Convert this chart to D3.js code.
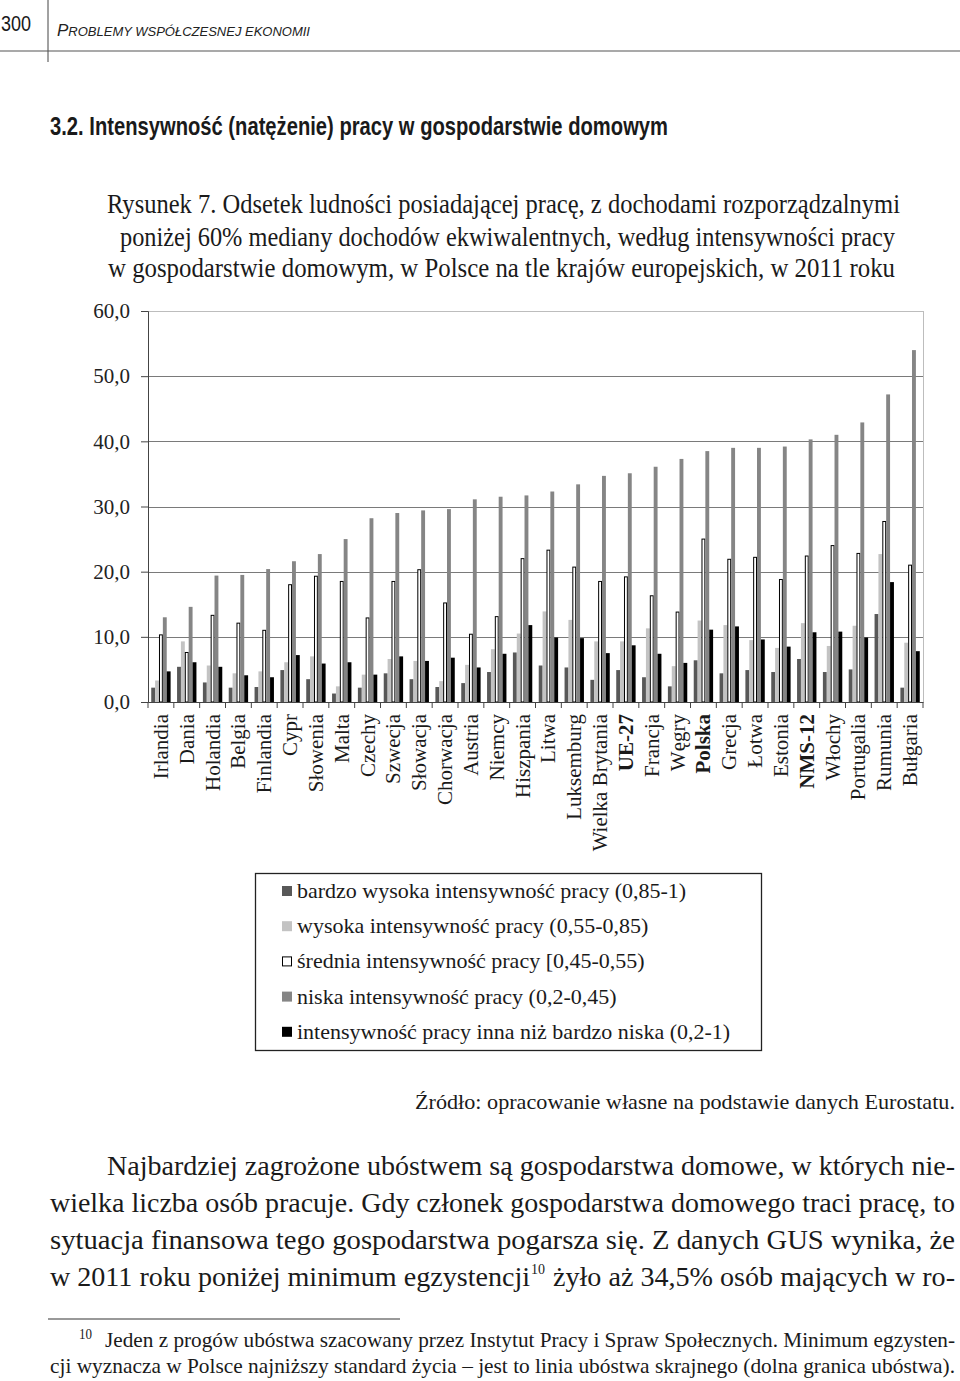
<!DOCTYPE html>
<html>
<head>
<meta charset="utf-8">
<script src="https://cdn.jsdelivr.net/npm/d3@7"></script>
<style>
  body { margin: 0; background: #fff; }
  svg { display: block; }
</style>
</head>
<body>
<script>
// kraje (kolejność jak na rysunku)
const countries = ["Irlandia", "Dania", "Holandia", "Belgia", "Finlandia", "Cypr", "Słowenia", "Malta",
  "Czechy", "Szwecja", "Słowacja", "Chorwacja", "Austria", "Niemcy", "Hiszpania", "Litwa", "Luksemburg",
  "Wielka Brytania", "UE-27", "Francja", "Węgry", "Polska", "Grecja", "Łotwa", "Estonia", "NMS-12",
  "Włochy", "Portugalia", "Rumunia", "Bułgaria"];
const boldCountries = ["UE-27", "Polska", "NMS-12"];

// wartości (%)
const veryHigh = [2.2, 5.4, 3.0, 2.2, 2.3, 4.9, 3.5, 1.3, 2.2, 4.4, 3.5, 2.3, 2.9, 4.6, 7.6, 5.6, 5.3,
  3.4, 4.9, 3.8, 2.4, 6.4, 4.4, 4.9, 4.6, 6.6, 4.6, 5.0, 13.5, 2.2];
const high = [3.3, 9.3, 5.6, 4.4, 4.7, 6.1, 7.0, 2.4, 4.2, 6.6, 6.3, 3.2, 5.7, 8.1, 10.5, 13.9, 12.6,
  9.3, 9.3, 11.3, 5.5, 12.5, 11.8, 9.5, 8.3, 12.1, 8.6, 11.7, 22.7, 9.1];
const medium = [10.3, 7.6, 13.3, 12.1, 11.0, 18.0, 19.3, 18.5, 12.9, 18.5, 20.3, 15.2, 10.4, 13.1, 22.0,
  23.3, 20.7, 18.5, 19.2, 16.3, 13.8, 25.0, 21.9, 22.2, 18.8, 22.4, 24.0, 22.8, 27.7, 21.0];
const low = [13.0, 14.6, 19.4, 19.5, 20.4, 21.6, 22.7, 25.0, 28.2, 29.0, 29.4, 29.6, 31.1, 31.5, 31.7,
  32.3, 33.4, 34.7, 35.1, 36.1, 37.3, 38.5, 39.0, 39.0, 39.2, 40.3, 41.0, 42.9, 47.2, 54.0];
const otherThanVeryLow = [4.7, 6.1, 5.4, 4.1, 3.8, 7.2, 5.9, 6.1, 4.2, 7.0, 6.3, 6.8, 5.3, 7.4, 11.8,
  9.9, 9.8, 7.5, 8.7, 7.4, 6.0, 11.1, 11.6, 9.6, 8.5, 10.7, 10.8, 9.9, 18.4, 7.8];

const seriesNames = [
  "bardzo wysoka intensywność pracy (0,85-1)",
  "wysoka intensywność pracy (0,55-0,85)",
  "średnia intensywność pracy [0,45-0,55)",
  "niska intensywność pracy (0,2-0,45)",
  "intensywność pracy inna niż bardzo niska (0,2-1)"
];
const yTicks = [0, 10, 20, 30, 40, 50, 60];

const series = [veryHigh, high, medium, low, otherThanVeryLow];
const fills = ["#585858", "#c3c3c3", "#ffffff", "#858585", "#000000"];
const serif = "'Liberation Serif', 'Times New Roman', serif";
const narrow = "'Liberation Sans Narrow', 'Liberation Sans', Arial, sans-serif";

const W = 960, H = 1381;
const svg = d3.select("body").append("svg")
  .attr("width", W).attr("height", H);

// tekst dopasowany do szerokości z oryginału (sy = rozciągnięcie w pionie)
function fitText(str, x, y, width, size, family, opts = {}) {
  const g = svg.append("g")
    .attr("transform", `translate(${x},${y}) scale(1,${opts.sy || 1})`);
  const t = g.append("text")
    .attr("font-family", family)
    .attr("font-size", size)
    .attr("fill", "#1a1a1a")
    .text(str);
  if (width) t.attr("textLength", width).attr("lengthAdjust", "spacingAndGlyphs");
  if (opts.weight) t.attr("font-weight", opts.weight);
  if (opts.anchor) t.attr("text-anchor", opts.anchor);
  return t;
}

// --- nagłówek strony ---
fitText("300", 1, 31, 30, 22, narrow);
svg.append("line").attr("x1", 48).attr("x2", 48).attr("y1", 0).attr("y2", 62)
  .attr("stroke", "#444").attr("stroke-width", 1);
svg.append("line").attr("x1", 0).attr("x2", W).attr("y1", 51).attr("y2", 51)
  .attr("stroke", "#555").attr("stroke-width", 1.2);
const hdr = svg.append("text").attr("x", 57).attr("y", 36)
  .attr("font-family", narrow).attr("font-style", "italic").attr("fill", "#222")
  .attr("textLength", 253).attr("lengthAdjust", "spacingAndGlyphs");
hdr.append("tspan").attr("font-size", 17).text("P");
hdr.append("tspan").attr("font-size", 13).text("ROBLEMY WSPÓŁCZESNEJ EKONOMII");

fitText("3.2. Intensywność (natężenie) pracy w gospodarstwie domowym", 50, 135, 618, 24, narrow, { weight: "bold", sy: 1.05 });

// --- tytuł rysunku ---
fitText("Rysunek 7. Odsetek ludności posiadającej pracę, z dochodami rozporządzalnymi", 107, 213, 793, 23, serif, { sy: 1.18 });
fitText("poniżej 60% mediany dochodów ekwiwalentnych, według intensywności pracy", 120, 246, 775, 23, serif, { sy: 1.18 });
fitText("w gospodarstwie domowym, w Polsce na tle krajów europejskich, w 2011 roku", 108, 277, 787, 23, serif, { sy: 1.18 });

// --- wykres ---
const plotLeft = 148, plotRight = 923, plotTop = 311, plotBottom = 702;
const x0 = d3.scaleBand().domain(countries).range([plotLeft, plotRight])
  .paddingInner(0.25).paddingOuter(0.125);
const x1 = d3.scaleBand().domain(d3.range(5)).range([0, x0.bandwidth()]);
const y = d3.scaleLinear().domain([0, 60]).range([plotBottom, plotTop]);

const chart = svg.append("g");

// linie siatki
chart.append("g").selectAll("line").data(yTicks.filter(d => d > 0)).join("line")
  .attr("x1", plotLeft).attr("x2", plotRight)
  .attr("y1", d => Math.round(y(d)) + 0.5).attr("y2", d => Math.round(y(d)) + 0.5)
  .attr("stroke", d => d === 60 ? "#bdbdbd" : "#7a7a7a").attr("stroke-width", 1.2);
chart.append("line").attr("x1", plotRight + 0.5).attr("x2", plotRight + 0.5)
  .attr("y1", plotTop).attr("y2", plotBottom)
  .attr("stroke", "#bdbdbd");

// słupki
const groups = chart.append("g").selectAll("g").data(countries).join("g")
  .attr("transform", d => `translate(${x0(d)},0)`);
groups.selectAll("rect")
  .data((c, i) => series.map((s, k) => ({ k, v: s[i] })))
  .join("rect")
  .attr("x", d => x1(d.k) + (d.k === 2 ? 0.5 : 0))
  .attr("width", d => x1.bandwidth() - (d.k === 2 ? 1 : 0))
  .attr("y", d => y(d.v))
  .attr("height", d => y(0) - y(d.v))
  .attr("fill", d => fills[d.k])
  .attr("stroke", d => d.k === 2 ? "#000" : "none")
  .attr("stroke-width", 1);

// oś Y
const yAxis = chart.append("g").attr("transform", `translate(${plotLeft},0)`)
  .call(d3.axisLeft(y).tickValues(yTicks).tickSize(7).tickPadding(11)
    .tickFormat(d => d3.format(".1f")(d).replace(".", ",")));
yAxis.select(".domain").attr("stroke", "#444");
yAxis.selectAll(".tick line").attr("stroke", "#444");
yAxis.selectAll("text").attr("font-family", serif).attr("font-size", 21).attr("fill", "#222");

// oś X
const xAxis = chart.append("g").attr("transform", `translate(0,${plotBottom})`)
  .call(d3.axisBottom(x0).tickSize(0).tickSizeOuter(0));
xAxis.select(".domain").attr("stroke", "#444");
xAxis.selectAll(".tick text").remove();
const step = x0.step();
chart.append("g").selectAll("line").data(d3.range(countries.length + 1)).join("line")
  .attr("x1", i => plotLeft + i * step).attr("x2", i => plotLeft + i * step)
  .attr("y1", plotBottom).attr("y2", plotBottom + 6)
  .attr("stroke", "#444");
chart.append("g").selectAll("text").data(countries).join("text")
  .attr("transform", d => `translate(${x0(d) + x0.bandwidth() / 2 + 7},${plotBottom + 12}) rotate(-90)`)
  .attr("text-anchor", "end")
  .attr("font-family", serif)
  .attr("font-size", 21)
  .attr("font-weight", d => boldCountries.includes(d) ? "bold" : "normal")
  .attr("fill", "#1a1a1a")
  .text(d => d);

// legenda
const lg = svg.append("g");
lg.append("rect").attr("x", 255.5).attr("y", 873.5).attr("width", 506).attr("height", 177)
  .attr("fill", "none").attr("stroke", "#222").attr("stroke-width", 1.3);
const lgRows = lg.selectAll("g").data(seriesNames).join("g")
  .attr("transform", (d, i) => `translate(282,${891 + i * 35.2})`);
lgRows.append("rect").attr("x", (d, i) => i === 2 ? 0.5 : 0).attr("y", (d, i) => i === 2 ? -4.5 : -5)
  .attr("width", (d, i) => i === 2 ? 9 : 10).attr("height", (d, i) => i === 2 ? 9 : 10)
  .attr("fill", (d, i) => fills[i])
  .attr("stroke", (d, i) => i === 2 ? "#000" : "none");
lgRows.append("text").attr("x", 15).attr("y", 7)
  .attr("font-family", serif).attr("font-size", 22).attr("fill", "#1a1a1a")
  .text(d => d);

// źródło
fitText("Źródło: opracowanie własne na podstawie danych Eurostatu.", 955, 1109, 540, 19, serif, { anchor: "end", sy: 1.12 });

// akapit
fitText("Najbardziej zagrożone ubóstwem są gospodarstwa domowe, w których nie-", 107, 1175, 848, 25, serif, { sy: 1.08 });
fitText("wielka liczba osób pracuje. Gdy członek gospodarstwa domowego traci pracę, to", 50, 1212, 905, 25, serif, { sy: 1.08 });
fitText("sytuacja finansowa tego gospodarstwa pogarsza się. Z danych GUS wynika, że", 50, 1249, 905, 25, serif, { sy: 1.08 });
fitText("w 2011 roku poniżej minimum egzystencji", 50, 1286, 480, 25, serif, { sy: 1.08 });
fitText("10", 531, 1274, 14, 15, serif);
fitText("żyło aż 34,5% osób mających w ro-", 553, 1286, 402, 25, serif, { sy: 1.08 });

// przypis
svg.append("line").attr("x1", 48).attr("x2", 400).attr("y1", 1319).attr("y2", 1319)
  .attr("stroke", "#777").attr("stroke-width", 1.5);
fitText("10", 79, 1339, 13, 14, serif);
fitText("Jeden z progów ubóstwa szacowany przez Instytut Pracy i Spraw Społecznych. Minimum egzysten-", 105, 1347, 850, 19, serif, { sy: 1.1 });
fitText("cji wyznacza w Polsce najniższy standard życia – jest to linia ubóstwa skrajnego (dolna granica ubóstwa).", 50, 1373, 905, 19, serif, { sy: 1.1 });
</script>
</body>
</html>
